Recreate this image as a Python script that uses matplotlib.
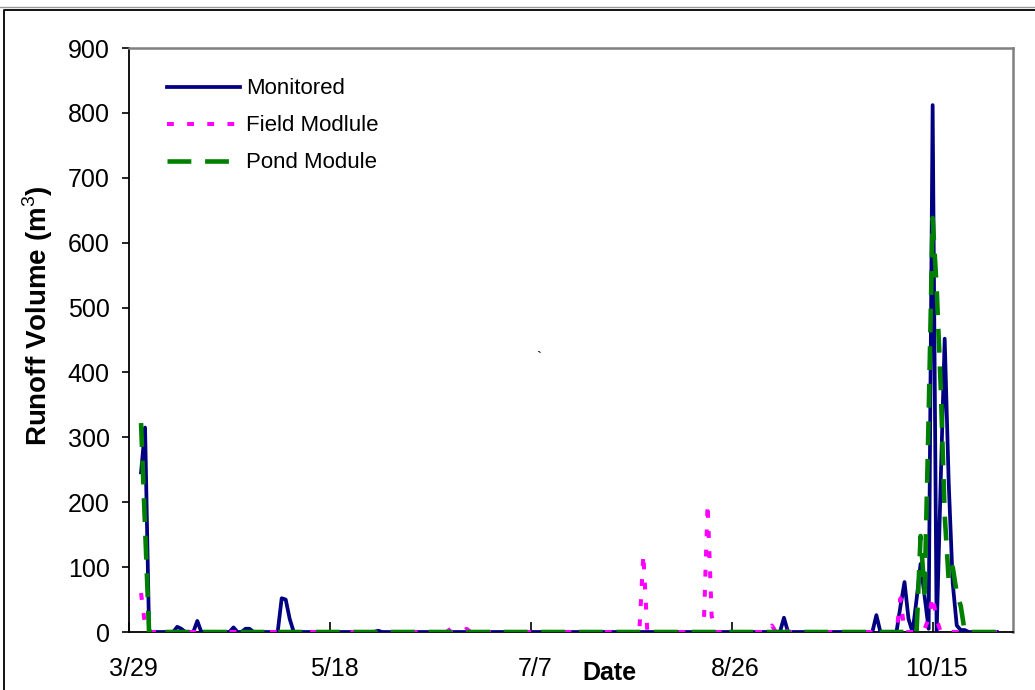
import datetime as dt
import numpy as np
import pandas as pd
import matplotlib
matplotlib.use("Agg")
import matplotlib.pyplot as plt
import matplotlib.dates as mdates
import matplotlib.transforms as mtransforms
from matplotlib.lines import Line2D

plt.rcParams['font.family'] = ['Liberation Sans', 'DejaVu Sans']
plt.rcParams['mathtext.fontset'] = 'custom'
plt.rcParams['mathtext.rm'] = 'Liberation Sans'
plt.rcParams['mathtext.bf'] = 'Liberation Sans:bold'

YEAR = 2007
season_start = "4/1"
season_end = "10/31"

# Days with runoff (m^3); every other day of the season is zero
monitored_dates = ["4/1", "4/2", "4/10", "4/11", "4/15", "4/24", "4/27", "4/28",
                   "5/6", "5/7", "5/8", "5/30", "9/8", "10/1", "10/7", "10/8",
                   "10/9", "10/11", "10/12", "10/13", "10/14", "10/15", "10/17",
                   "10/18", "10/19", "10/20", "10/21", "10/22", "10/23"]
monitored_vals = [246, 315, 8, 5, 17, 7, 5, 5,
                  52, 50, 20, 2, 22, 26, 40, 77,
                  20, 50, 105, 55, 5, 812, 230,
                  452, 230, 75, 10, 3, 3]

field_dates = ["4/1", "4/2", "6/16", "6/21", "8/4", "8/20", "8/21", "9/5", "9/8",
               "10/7", "10/13", "10/14", "10/15", "10/16"]
field_vals = [60, 10, 8, 5, 120, 198, 25, 10, 6,
              52, 5, 20, 55, 20]

pond_dates = ["4/1", "4/2", "10/12", "10/13", "10/14", "10/15", "10/16", "10/17",
              "10/18", "10/19", "10/20", "10/21", "10/22"]
pond_vals = [322, 160, 148, 60, 330, 638, 530, 380,
             180, 80, 100, 60, 40]

series_names = ["Monitored", "Field Modlule", "Pond Module"]
tick_dates = ["3/29", "5/18", "7/7", "8/26", "10/15"]
axis_start = "3/29"
axis_days = 220


def to_date(md):
    m, d = md.split("/")
    return pd.Timestamp(YEAR, int(m), int(d))


days = pd.date_range(to_date(season_start), to_date(season_end), freq="D")


def daily_series(dates, vals):
    s = pd.Series(0.0, index=days)
    for md, v in zip(dates, vals):
        s[to_date(md)] = v
    return s


monitored = daily_series(monitored_dates, monitored_vals)
field = daily_series(field_dates, field_vals)
pond = daily_series(pond_dates, pond_vals)

fig = plt.figure(figsize=(10.35, 6.9), dpi=100)
ax = fig.add_axes([129 / 1035, 58 / 690, 884 / 1035, 584 / 690])

ax.plot(days, monitored.values, color="#000080", lw=2.7, solid_joinstyle="round",
        label=series_names[0], zorder=3)
ax.plot(days, field.values, color="#FF00FF", lw=2.9, linestyle=(0, (1.7, 3.3)),
        label=series_names[1], zorder=4)
ax.plot(days, pond.values, color="#008000", lw=3.3, linestyle=(0, (5.2, 3.0)),
        label=series_names[2], zorder=5)

x0 = to_date(axis_start)
ax.set_xlim(x0, x0 + pd.Timedelta(days=axis_days))
ax.set_ylim(0, 900)
ax.set_yticks(np.arange(0, 901, 100))

ax.set_xticks([to_date(t) for t in tick_dates])
ax.set_xticklabels(tick_dates)

ax.tick_params(axis="y", direction="out", length=5, width=1.2, pad=9, labelsize=18)
ax.tick_params(axis="x", direction="in", length=7, width=1.2, pad=18, labelsize=18)
shift = mtransforms.ScaledTranslation(4 / 100, 0, fig.dpi_scale_trans)
for lab in ax.get_xticklabels():
    lab.set_transform(lab.get_transform() + shift)

for side in ("left", "bottom"):
    ax.spines[side].set_color("black")
    ax.spines[side].set_linewidth(1.3)
for side in ("top", "right"):
    ax.spines[side].set_color("#808080")
    ax.spines[side].set_linewidth(1.8)

ax.set_ylabel("Runoff Volume (m$^{3}$)", fontsize=20, fontweight="bold")
ax.yaxis.set_label_coords(-0.084, 0.541)
ax.set_xlabel("Date", fontsize=18, fontweight="bold")
ax.xaxis.set_label_coords(0.544, -0.05)

ax.text(to_date("7/9"), 422, "`", fontsize=11, ha="center", va="center")

leg = ax.legend(loc="upper left", bbox_to_anchor=(0.043, 0.948), frameon=False,
                fontsize=16, handlelength=3.3, handletextpad=0.25,
                labelspacing=0.72, borderpad=0, borderaxespad=0)

# chart border
fig.add_artist(Line2D([0, 1], [1 - 7 / 690, 1 - 7 / 690], color="#999999", lw=1.0))
fig.add_artist(Line2D([4 / 1035, 4 / 1035, 1], [0, 1 - 9.5 / 690, 1 - 9.5 / 690],
                      color="black", lw=1.3))

fig.savefig("out.png", dpi=100)
